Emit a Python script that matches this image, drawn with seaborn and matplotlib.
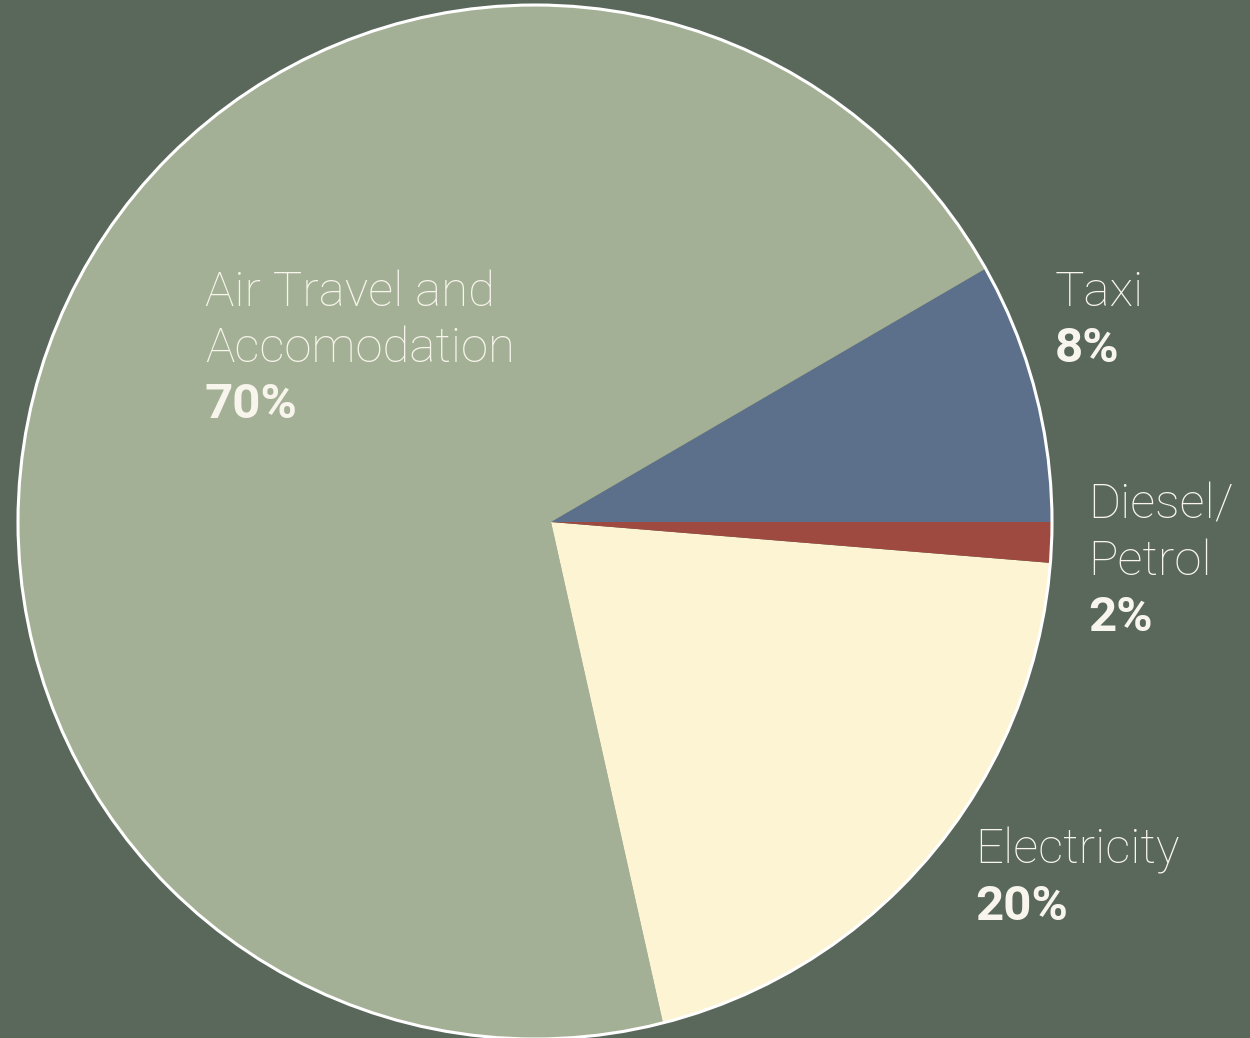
import matplotlib
matplotlib.use("Agg")
import matplotlib.pyplot as plt
import seaborn as sns
from matplotlib.patches import Circle

# data (share of each wedge, counter-clockwise from 3 o'clock)
categories = ["Taxi", "Air Travel and\nAccomodation", "Electricity", "Diesel/\nPetrol"]
shares = [8.4, 70.1, 20.2, 1.3]
pct_labels = ["8%", "70%", "20%", "2%"]

colors = ["#5c708c", "#a4b095", "#fdf4d4", "#9e4a40"]
bg = "#5a675b"
txt = "#f7f5ec"

sns.set_theme(style="white")
plt.rcParams["font.family"] = ["Roboto", "DejaVu Sans"]

W, H = 1250, 1038
fig = plt.figure(figsize=(12.5, 10.38), dpi=100, facecolor=bg)
ax = fig.add_axes([0, 0, 1, 1])
ax.set_facecolor(bg)
ax.axis("off")

# wedges meet slightly right of the circle's centre, so clip to the outline
apex = (551, H - 522)
circ_c = (535, H - 522)
circ_r = 517

wedges, _ = ax.pie(shares, colors=colors, startangle=0, counterclock=True,
                   center=apex, radius=700, wedgeprops=dict(linewidth=0))
ax.set_xlim(0, W)
ax.set_ylim(0, H)
ax.set_aspect("equal")

clip = Circle(circ_c, circ_r, transform=ax.transData, facecolor="none")
for w in wedges:
    w.set_clip_on(True)
    w.set_clip_path(clip)
ax.add_patch(Circle(circ_c, circ_r, facecolor="none", edgecolor="white",
                    linewidth=2.2, clip_on=False))

# label layout: (x, first baseline) in pixels
label_pos = [(1055, 306), (205, 306), (975, 864), (1088, 519)]
pitch = 56
fs = 35.5

for name, pct, (x, y) in zip(categories, pct_labels, label_pos):
    lines = name.split("\n")
    for i, line in enumerate(lines):
        ax.text(x, H - (y + i * pitch), line, color=txt, fontsize=fs,
                fontweight="light", va="baseline", ha="left")
    ax.text(x, H - (y + len(lines) * pitch), pct, color=txt, fontsize=fs,
            fontweight="semibold", va="baseline", ha="left")

fig.savefig("out.png", dpi=100, facecolor=bg)
